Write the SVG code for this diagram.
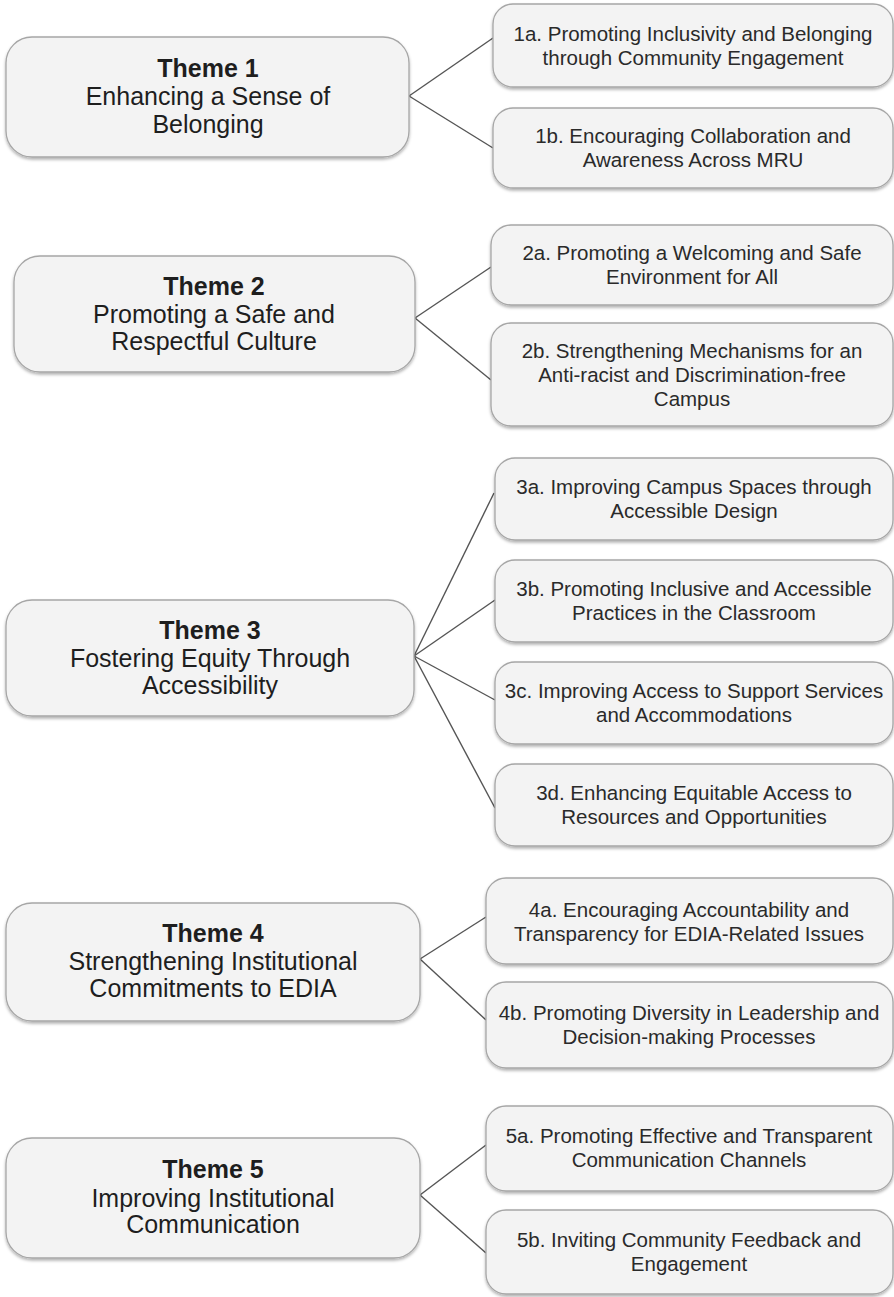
<svg xmlns="http://www.w3.org/2000/svg" width="894" height="1297" viewBox="0 0 894 1297">
  <defs>
    <filter id="shadow" x="-5%" y="-10%" width="110%" height="125%">
      <feDropShadow dx="0" dy="2" stdDeviation="1.5" flood-color="#000" flood-opacity="0.3"/>
    </filter>
  </defs>
  <style>
    .theme rect { fill: #f3f3f3; stroke: #a6a6a6; stroke-width: 1.3; filter: url(#shadow); }
    .sub rect { fill: #f3f3f3; stroke: #a6a6a6; stroke-width: 1.3; filter: url(#shadow); }
    .theme text { font-family: "Liberation Sans", Arial, sans-serif; font-size: 25px; fill: #1e1e1e; text-anchor: middle; }
    .theme .title { font-weight: bold; }
    .sub text { font-family: "Liberation Sans", Arial, sans-serif; font-size: 20.5px; fill: #2a2a2a; text-anchor: middle; }
    #connectors line { stroke: #555; stroke-width: 1.4; }
  </style>
  <rect width="894" height="1297" fill="#ffffff"/>

  <!-- connectors from each theme to its sub-goals -->
  <g id="connectors">
    <line x1="409" y1="96" x2="493" y2="38"/>
    <line x1="409" y1="96" x2="493" y2="148"/>
    <line x1="415" y1="318" x2="491" y2="267"/>
    <line x1="415" y1="318" x2="491" y2="380"/>
    <line x1="414" y1="656" x2="494" y2="493"/>
    <line x1="414" y1="656" x2="495" y2="600"/>
    <line x1="414" y1="656" x2="495" y2="700"/>
    <line x1="414" y1="656" x2="495" y2="808"/>
    <line x1="420" y1="959" x2="486" y2="917"/>
    <line x1="420" y1="959" x2="486" y2="1020"/>
    <line x1="420" y1="1195" x2="486" y2="1145"/>
    <line x1="420" y1="1195" x2="486" y2="1253"/>
  </g>

  <!-- Theme 1 -->
  <g id="theme1" class="theme">
    <rect x="6" y="37" width="403" height="120" rx="26" ry="26"/>
    <text x="208" y="77" class="title">Theme 1</text>
    <text x="208" y="105">Enhancing a Sense of</text>
    <text x="208" y="133">Belonging</text>
  </g>
  <g id="goal1a" class="sub">
    <rect x="493" y="4" width="400" height="83" rx="20" ry="20"/>
    <text x="693" y="41">1a. Promoting Inclusivity and Belonging</text>
    <text x="693" y="65">through Community Engagement</text>
  </g>
  <g id="goal1b" class="sub">
    <rect x="493" y="108" width="400" height="80" rx="20" ry="20"/>
    <text x="693" y="143">1b. Encouraging Collaboration and</text>
    <text x="693" y="167">Awareness Across MRU</text>
  </g>

  <!-- Theme 2 -->
  <g id="theme2" class="theme">
    <rect x="14" y="256" width="401" height="116" rx="26" ry="26"/>
    <text x="214" y="295" class="title">Theme 2</text>
    <text x="214" y="323">Promoting a Safe and</text>
    <text x="214" y="350">Respectful Culture</text>
  </g>
  <g id="goal2a" class="sub">
    <rect x="491" y="225" width="402" height="80" rx="20" ry="20"/>
    <text x="692" y="260">2a. Promoting a Welcoming and Safe</text>
    <text x="692" y="284">Environment for All</text>
  </g>
  <g id="goal2b" class="sub">
    <rect x="491" y="323" width="402" height="103" rx="20" ry="20"/>
    <text x="692" y="358">2b. Strengthening Mechanisms for an</text>
    <text x="692" y="382">Anti-racist and Discrimination-free</text>
    <text x="692" y="406">Campus</text>
  </g>

  <!-- Theme 3 -->
  <g id="theme3" class="theme">
    <rect x="6" y="600" width="408" height="116" rx="26" ry="26"/>
    <text x="210" y="639" class="title">Theme 3</text>
    <text x="210" y="667">Fostering Equity Through</text>
    <text x="210" y="694">Accessibility</text>
  </g>
  <g id="goal3a" class="sub">
    <rect x="495" y="458" width="398" height="82" rx="20" ry="20"/>
    <text x="694" y="494">3a. Improving Campus Spaces through</text>
    <text x="694" y="518">Accessible Design</text>
  </g>
  <g id="goal3b" class="sub">
    <rect x="495" y="560" width="398" height="82" rx="20" ry="20"/>
    <text x="694" y="596">3b. Promoting Inclusive and Accessible</text>
    <text x="694" y="620">Practices in the Classroom</text>
  </g>
  <g id="goal3c" class="sub">
    <rect x="495" y="662" width="398" height="82" rx="20" ry="20"/>
    <text x="694" y="698">3c. Improving Access to Support Services</text>
    <text x="694" y="722">and Accommodations</text>
  </g>
  <g id="goal3d" class="sub">
    <rect x="495" y="764" width="398" height="82" rx="20" ry="20"/>
    <text x="694" y="800">3d. Enhancing Equitable Access to</text>
    <text x="694" y="824">Resources and Opportunities</text>
  </g>

  <!-- Theme 4 -->
  <g id="theme4" class="theme">
    <rect x="6" y="903" width="414" height="118" rx="26" ry="26"/>
    <text x="213" y="942" class="title">Theme 4</text>
    <text x="213" y="970">Strengthening Institutional</text>
    <text x="213" y="997">Commitments to EDIA</text>
  </g>
  <g id="goal4a" class="sub">
    <rect x="486" y="878" width="407" height="86" rx="20" ry="20"/>
    <text x="689" y="917">4a. Encouraging Accountability and</text>
    <text x="689" y="941">Transparency for EDIA-Related Issues</text>
  </g>
  <g id="goal4b" class="sub">
    <rect x="486" y="982" width="407" height="86" rx="20" ry="20"/>
    <text x="689" y="1020">4b. Promoting Diversity in Leadership and</text>
    <text x="689" y="1044">Decision-making Processes</text>
  </g>

  <!-- Theme 5 -->
  <g id="theme5" class="theme">
    <rect x="6" y="1138" width="414" height="120" rx="26" ry="26"/>
    <text x="213" y="1178" class="title">Theme 5</text>
    <text x="213" y="1207">Improving Institutional</text>
    <text x="213" y="1233">Communication</text>
  </g>
  <g id="goal5a" class="sub">
    <rect x="486" y="1106" width="407" height="85" rx="20" ry="20"/>
    <text x="689" y="1143">5a. Promoting Effective and Transparent</text>
    <text x="689" y="1167">Communication Channels</text>
  </g>
  <g id="goal5b" class="sub">
    <rect x="486" y="1210" width="407" height="84" rx="20" ry="20"/>
    <text x="689" y="1247">5b. Inviting Community Feedback and</text>
    <text x="689" y="1271">Engagement</text>
  </g>
</svg>
